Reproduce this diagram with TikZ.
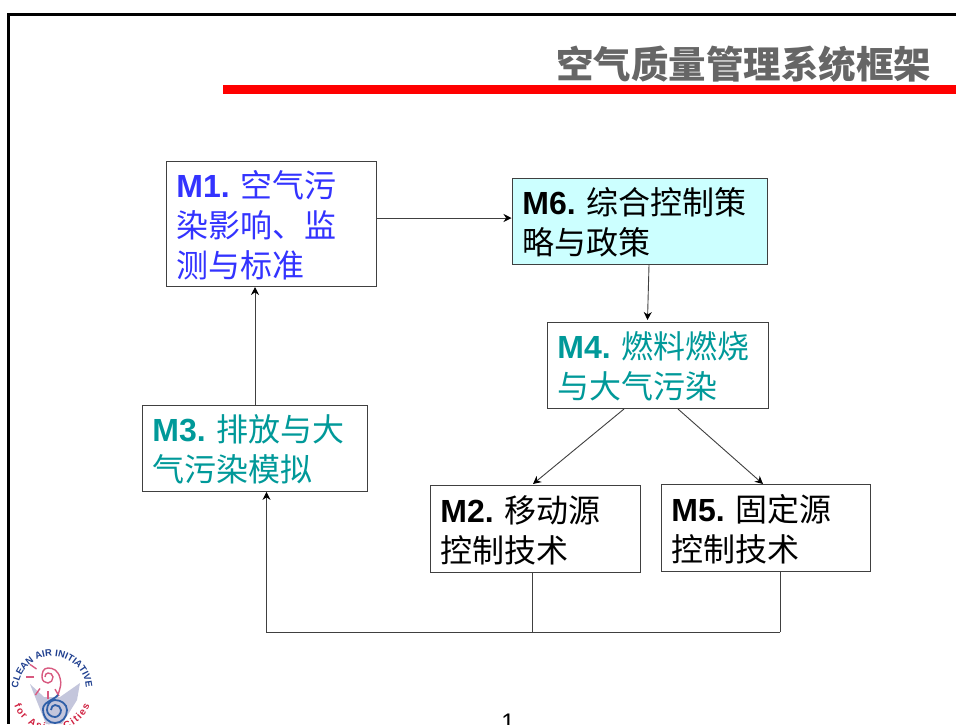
\documentclass[tikz,border=0pt]{standalone}
\usepackage{fontspec}
\setmainfont{Liberation Sans}
\newfontfamily\cjk{Noto Sans CJK SC}
\usetikzlibrary{arrows.meta, decorations.text}

\definecolor{tealtext}{HTML}{009999}
\definecolor{bluetext}{HTML}{3333FF}
\definecolor{cyanfill}{HTML}{CCFFFF}
\definecolor{titlegray}{HTML}{666666}
\definecolor{logoblue}{HTML}{2F5FA8}
\definecolor{logonavy}{HTML}{1F3F8F}
\definecolor{logopink}{HTML}{D85A80}
\definecolor{logored}{HTML}{D02040}
\definecolor{logogray}{HTML}{C4C6DC}

\tikzset{
	modbox/.style = {draw = black!75, line width = 0.9pt, anchor = north west, align = left, inner xsep = 10.5pt, inner ysep = 0pt, font = \fontsize{32}{40}\selectfont},
	conn/.style = {black!75, line width = 0.9pt},
	arr/.style = {conn, -{Stealth[length = 8pt, width = 8pt, black]}}
}
\newcommand{\modlabel}[1]{\rule{0pt}{30pt}\textbf{#1.}\hspace{11pt}}

\begin{document}
\begin{tikzpicture}[x = 1pt, y = -1pt, >=stealth]
\useasboundingbox (0,0) rectangle (956,724);
\fill [white] (0,0) rectangle (956,724);

% slide frame and title
\draw [line width = 3pt] (956,14) -- (8,14) -- (8,724);
\fill [red] (222.5,85) rectangle (956,94);
\node (title) [anchor = east, text = titlegray, font = \fontsize{37.5}{40}\selectfont\cjk\bfseries] at (935,64.5) {空气质量管理系统框架};
\node (pagenum) [font = \fontsize{24}{24}\selectfont, anchor = base] at (508,730) {1};

% modules
\node (m1) [modbox, text = bluetext, minimum width = 210.5pt, minimum height = 125.5pt, text width = 189.5pt] at (165.5,160.5)
	{\modlabel{M1}{\cjk 空气污}\\{\cjk 染影响、监}\\{\cjk 测与标准}};
\node (m6) [modbox, fill = cyanfill, minimum width = 255.5pt, minimum height = 86.5pt, text width = 234.5pt] at (511.5,177.5)
	{\modlabel{M6}{\cjk 综合控制策}\\{\cjk 略与政策}};
\node (m4) [modbox, text = tealtext, minimum width = 221.5pt, minimum height = 86.5pt, text width = 200.5pt] at (546.5,321.5)
	{\modlabel{M4}{\cjk 燃料燃烧}\\{\cjk 与大气污染}};
\node (m3) [modbox, text = tealtext, minimum width = 225.5pt, minimum height = 86.5pt, text width = 204.5pt] at (141.5,404.5)
	{\modlabel{M3}{\cjk 排放与大}\\{\cjk 气污染模拟}};
\node (m2) [modbox, minimum width = 210.5pt, minimum height = 87.5pt, text width = 189.5pt] at (429.5,484.5)
	{\modlabel{M2}{\cjk 移动源}\\{\cjk 控制技术}};
\node (m5) [modbox, minimum width = 209.5pt, minimum height = 87.5pt, text width = 188.5pt] at (660.5,483.5)
	{\modlabel{M5}{\cjk 固定源}\\{\cjk 控制技术}};

% connectors
\coordinate (busleft) at (266.5,632);
\coordinate (busright) at (780,632);
\coordinate (busmid) at (532,632);
\draw [arr] (m1.east |- 0,218) -- (m6.west |- 0,218);
\draw [arr] (649,265) -- (647.5,320);
\draw [arr] (624,409) -- (533,484);
\draw [arr] (678,409) -- (763,484);
\draw [arr] (255,405) -- (255,287);
\draw [conn] (m2.south -| busmid) -- (busmid);
\draw [conn] (m5.south -| busright) -- (busright);
\draw [arr] (busright) -- (busleft) -- (m3.south -| busleft);

% logo
\begin{scope}
\clip (10,640) rectangle (100,724);
\fill [logogray] (30,684) -- (44,697) -- (60,697) -- (80,683) -- (77,700) -- (62,724) -- (46,724) -- cycle;
\draw [logopink, line width = 1.4pt] (58,695) .. controls (60,688) and (62,684) .. (60,678) .. controls (58,670) and (53,668) .. (48,668) .. controls (43,668) and (42,673) .. (42,677) .. controls (42,681) and (45,683) .. (48,683) .. controls (51,683) and (53,680) .. (53,677) .. controls (53,674) and (50,673) .. (48,673) .. controls (46,673) and (45,675) .. (45,677);
\foreach \ang in {60,90,125,180,215}
	\draw [logopink, line width = 1.4pt] (48,677) ++(\ang:14) -- ++(\ang:8);
\draw [logoblue, line width = 1.8pt] (58,695) .. controls (54,700) and (43,702) .. (43,709) .. controls (43,718) and (49,723) .. (55,723) .. controls (62,723) and (67,717) .. (67,710) .. controls (67,704) and (61,700) .. (55,700) .. controls (50,700) and (47,705) .. (47,710) .. controls (47,714) and (51,717) .. (55,717) .. controls (58,717) and (61,714) .. (61,710) .. controls (61,707) and (58,705) .. (55,705) .. controls (53,705) and (51,707) .. (51,710);
\path [postaction = {decorate, decoration = {text along path, text align = center, text = {|\fontsize{9.5}{9.5}\selectfont\bfseries\color{logonavy}|CLEAN AIR INITIATIVE}}}]
	(19.2,698.8) arc [start angle = 195, end angle = -15, radius = 34pt];
\path [postaction = {decorate, decoration = {text along path, text align = fit to path, text = {|\fontsize{10}{10}\selectfont\bfseries\color{logored}|for Asian Cities}}}]
	(14.1,705.7) arc [start angle = 202.5, end angle = 337.5, radius = 41pt];
\end{scope}

\end{tikzpicture}
\end{document}
